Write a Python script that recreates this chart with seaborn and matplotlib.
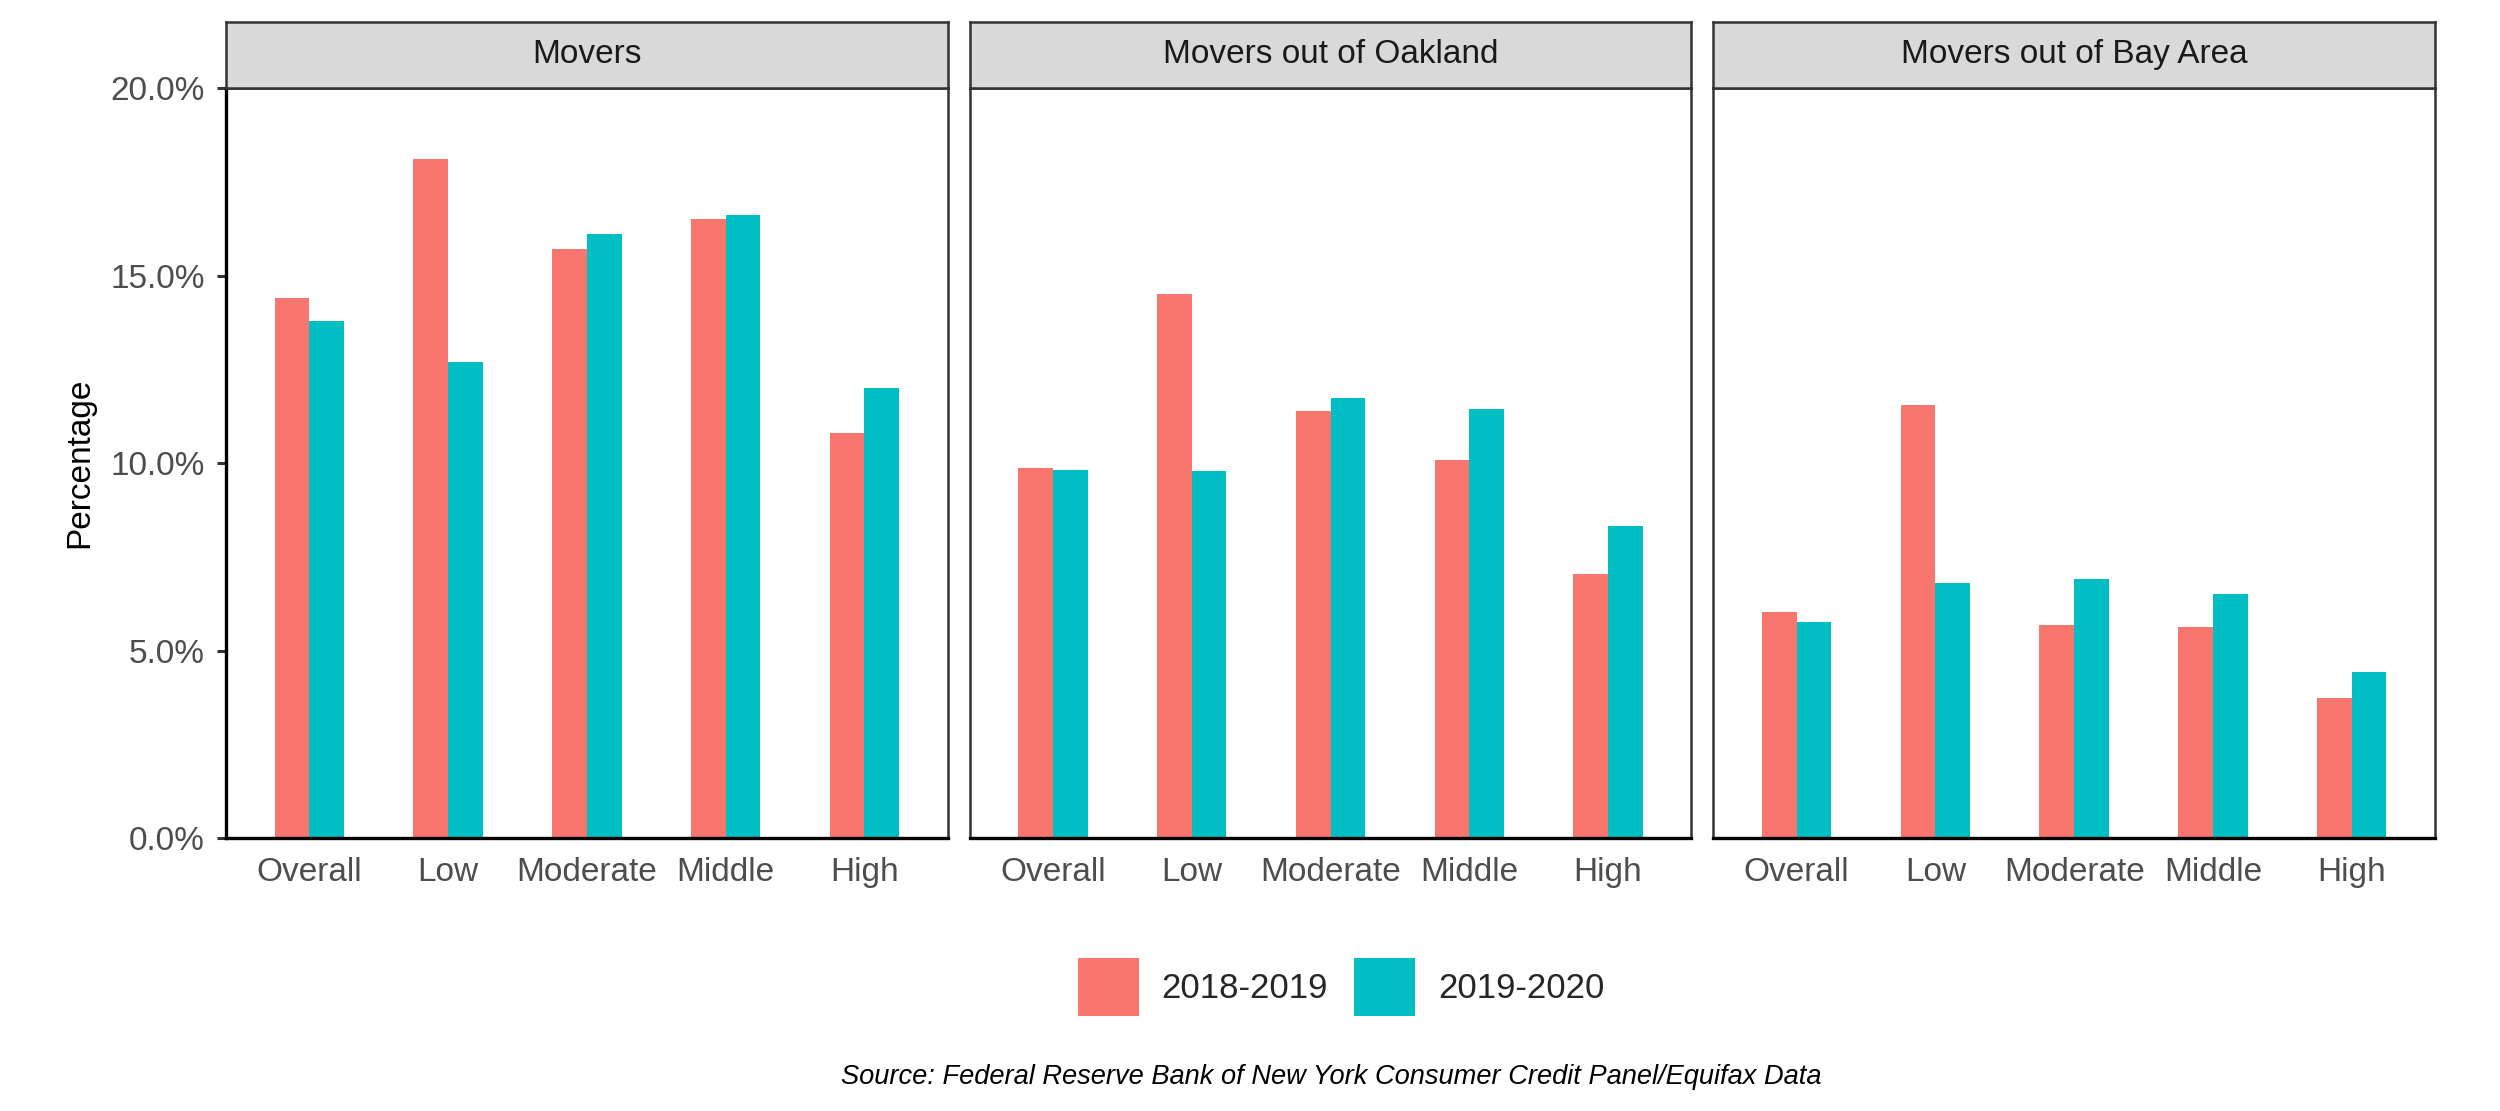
import pandas as pd
import seaborn as sns
from matplotlib import pyplot as plt
from matplotlib.ticker import PercentFormatter, MultipleLocator

# === DATA
panels = ['Movers', 'Movers out of Oakland', 'Movers out of Bay Area']
groups = ['Overall', 'Low', 'Moderate', 'Middle', 'High']
periods = ['2018-2019', '2019-2020']

movers_1819 = [14.4, 18.1, 15.7, 16.5, 10.8]
movers_1920 = [13.8, 12.7, 16.1, 16.6, 12.0]
oakland_1819 = [9.87, 14.5, 11.4, 10.08, 7.04]
oakland_1920 = [9.82, 9.79, 11.74, 11.43, 8.31]
bay_1819 = [6.03, 11.55, 5.68, 5.63, 3.73]
bay_1920 = [5.75, 6.81, 6.92, 6.52, 4.42]

source = 'Source: Federal Reserve Bank of New York Consumer Credit Panel/Equifax Data'

# Long table for seaborn
series = {
    'Movers': (movers_1819, movers_1920),
    'Movers out of Oakland': (oakland_1819, oakland_1920),
    'Movers out of Bay Area': (bay_1819, bay_1920),
}
rows = []
for panel in panels:
    for period, vals in zip(periods, series[panel]):
        for g, v in zip(groups, vals):
            rows.append({'panel': panel, 'period': period, 'group': g, 'pct': v})
df = pd.DataFrame(rows)

# === STYLE
sns.set_style('white')
plt.rcParams['font.family'] = ['Liberation Sans', 'DejaVu Sans']
palette = {'2018-2019': '#F8766D', '2019-2020': '#00BFC4'}

# === FIGURE
fig, axes = plt.subplots(1, 3, figsize=(12.5, 5.555), dpi=200, sharey=True)
fig.subplots_adjust(left=0.0904, right=0.974, bottom=0.2457, top=0.9208,
                    wspace=0.0305)

for i, (ax, panel) in enumerate(zip(axes, panels)):
    sns.barplot(data=df[df['panel'] == panel], x='group', y='pct',
                hue='period', hue_order=periods, order=groups,
                palette=palette, width=0.5, saturation=1, linewidth=0,
                errorbar=None, legend=(i == 0), ax=ax)
    ax.set_xlim(-0.6, 4.6)
    ax.set_ylim(0, 20)
    ax.set_xlabel('')
    ax.set_ylabel('')
    ax.yaxis.set_major_locator(MultipleLocator(5))
    ax.yaxis.set_major_formatter(PercentFormatter(xmax=100, decimals=1))
    ax.tick_params(axis='x', length=3.2, width=1.1, color='#333333',
                   labelsize=12, labelcolor='#4D4D4D', pad=3.5)
    ax.tick_params(axis='y', length=3.2, width=1.1, color='#333333',
                   labelsize=12, labelcolor='#4D4D4D', pad=4.5,
                   left=(i == 0), labelleft=(i == 0))
    for side in ['top', 'right', 'left']:
        ax.spines[side].set_color('#333333')
        ax.spines[side].set_linewidth(0.9)
    ax.spines['bottom'].set_color('black')
    ax.spines['bottom'].set_linewidth(1.2)
    if i == 0:
        ax.spines['left'].set_color('black')
        ax.spines['left'].set_linewidth(1.2)

    # Facet strip
    pos = ax.get_position()
    strip = fig.add_axes([pos.x0, pos.y1, pos.width, 66 / 1111])
    strip.set_facecolor('#D9D9D9')
    strip.set_xticks([])
    strip.set_yticks([])
    for s in strip.spines.values():
        s.set_color('#333333')
        s.set_linewidth(0.9)
    strip.text(0.5, 0.5, panel, ha='center', va='center', fontsize=12,
               color='#1A1A1A', transform=strip.transAxes)

# Legend at the bottom
handles, labels = axes[0].get_legend_handles_labels()
axes[0].get_legend().remove()
fig.legend(handles, labels, loc='center', bbox_to_anchor=(1341 / 2500, 1 - 987 / 1111),
           ncol=2, frameon=False, fontsize=12.5, handlelength=1.76,
           handleheight=2.15, handletextpad=0.66, columnspacing=0.75)

# Axis title and caption
fig.text(80 / 2500, 1 - 463 / 1111, 'Percentage', rotation=90, ha='center',
         va='center', fontsize=12, color='black')
fig.text(1331 / 2500, 1 - 1077 / 1111, source, ha='center', va='center',
         fontsize=9.8, style='italic', color='black')

plt.savefig('out.png', dpi=200)
